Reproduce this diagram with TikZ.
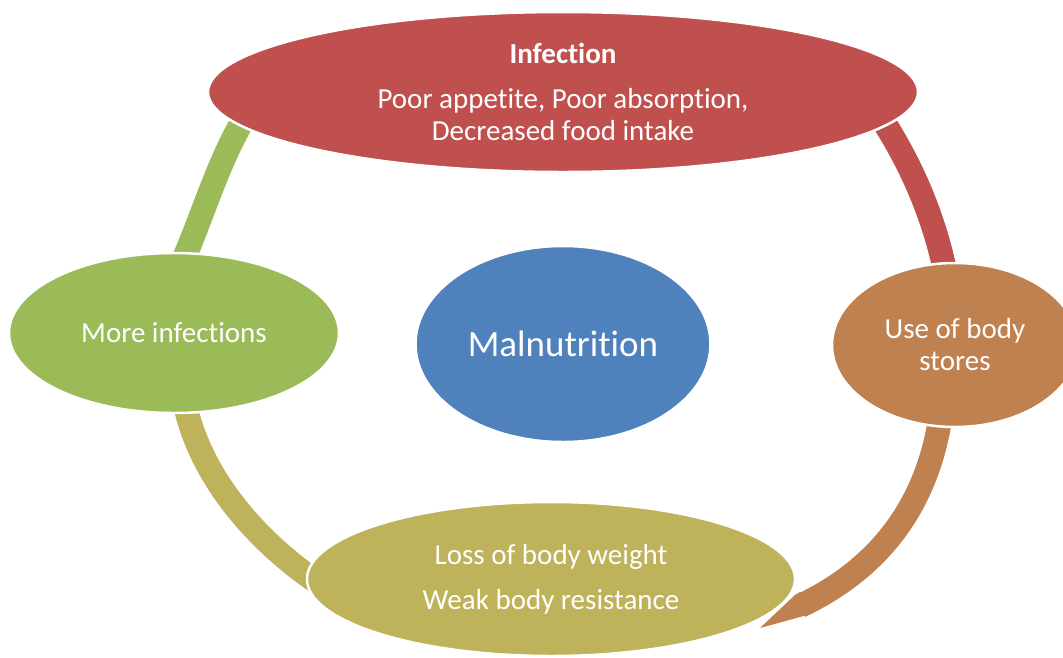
\documentclass[tikz,border=0pt]{standalone}
\usepackage{fontspec}
\setmainfont{Carlito}[Ligatures=NoCommon]
\usetikzlibrary{shapes.geometric}
\pgfdeclarelayer{bg}
\pgfsetlayers{bg,main}
\definecolor{cred}{HTML}{C0504D}
\definecolor{cgreen}{HTML}{9BBB59}
\definecolor{cblue}{HTML}{4F81BD}
\definecolor{corange}{HTML}{C08150}
\definecolor{colive}{HTML}{BEB25A}
\begin{document}
\begin{tikzpicture}[x=1pt,y=-1pt,
  blob/.style={ellipse, inner sep=0pt, draw=white, line width=2.5pt, text=white,
    align=center, font=\fontsize{29}{32}\selectfont},
  band/.style={line width=24pt, line cap=butt, shorten <=-14pt, shorten >=-14pt}]
\useasboundingbox (0,0) rectangle (1063,657);
\clip (0,0) rectangle (1063,657);

\node[blob, fill=cred, minimum width=710pt, minimum height=160pt] (inf) at (563,92)
  {{\bfseries Infection}\\[13pt]Poor appetite, Poor absorption,\\Decreased food intake};
\node[blob, fill=cgreen, minimum width=330pt, minimum height=160pt] (more) at (174,333)
  {More infections};
\node[blob, fill=cblue, minimum width=295pt, minimum height=196pt,
  font=\fontsize{37}{40}\selectfont] (mal) at (563,344) {Malnutrition};
\node[blob, fill=corange, minimum width=246pt, minimum height=164pt] (stores) at (955,345)
  {Use of body\\stores};
\node[blob, fill=colive, minimum width=488pt, minimum height=154pt] (loss) at (551,579)
  {Loss of body weight\\[13pt]Weak body resistance};

\coordinate (oend) at (800,606);
\coordinate (tip) at (760,628);

\begin{pgfonlayer}{bg}
\fill[white] (0,0) rectangle (1063,657);
\draw[band, cgreen] (inf.186.9) .. controls +(-22,36) and +(17,-38) .. (more.81.4);
\draw[band, cred] (inf.-6.5) .. controls +(25,38) and +(-9,-45) .. (stores.98.4);
\draw[band, corange, shorten >=0pt] (stores.-101.1) .. controls +(-12,85) and +(72,-34) .. (oend);
\fill[corange] (800,592) -- (811,614) -- (tip) -- (795,595) -- cycle;
\draw[band, colive] (more.279.3) .. controls +(12,62) and +(-50,-34) .. (loss.179);
\end{pgfonlayer}
\end{tikzpicture}
\end{document}
